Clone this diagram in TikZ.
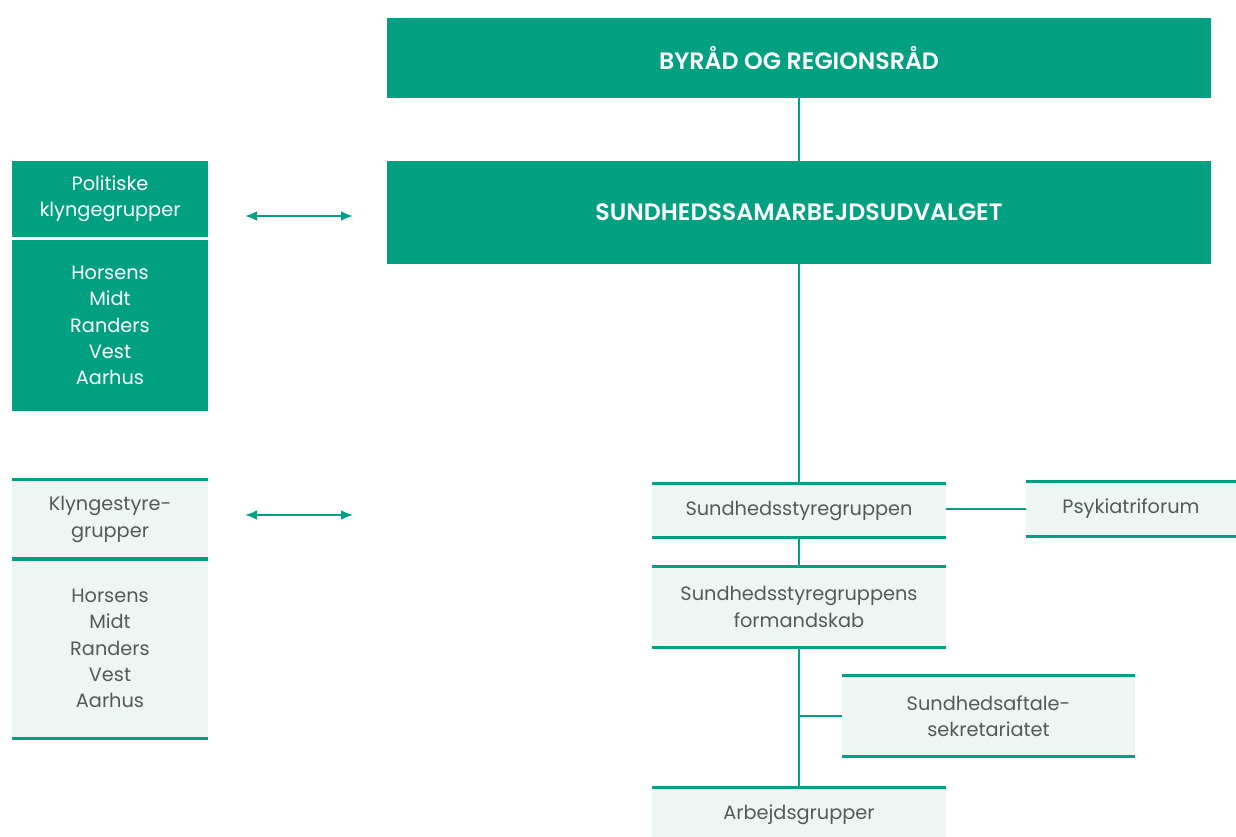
\documentclass[tikz,border=0pt]{standalone}
\usepackage{fontspec}
\setmainfont{Poppins}[BoldFont={Poppins SemiBold}]
\usepackage{tikz}
\usetikzlibrary{arrows.meta}
\definecolor{sgreen}{RGB}{0,160,128}
\definecolor{spale}{RGB}{238,246,243}
\definecolor{stext}{RGB}{84,90,88}
\begin{document}
\begin{tikzpicture}[x=0.02cm,y=-0.02cm,
		darkbox/.style={fill=sgreen,text=white,inner sep=0pt,align=center,font=\fontsize{11}{15}\selectfont},
		headbox/.style={darkbox,minimum width=16.5cm,font=\bfseries\fontsize{13.5}{16}\selectfont},
		palebox/.style={fill=spale,text=stext,inner sep=0pt,align=center,font=\fontsize{11}{15}\selectfont},
		rule/.style={sgreen,line width=0.06cm},
		link/.style={sgreen,line width=0.05cm},
		both/.style={sgreen,line width=0.05cm,{Latex[length=0.24cm,width=0.2cm]}-{Latex[length=0.24cm,width=0.2cm]}}]
	\useasboundingbox[fill=white] (0,0) rectangle (1236,837);

	%% top level
	\node[headbox, minimum height=1.6cm] (byraad) at (799,58) {BYRÅD OG REGIONSRÅD};
	\node[headbox, minimum height=2.06cm] (sam) at (799,212.5) {SUNDHEDSSAMARBEJDSUDVALGET};

	%% left column
	\node[darkbox, minimum width=3.92cm, minimum height=1.52cm] (polit) at (110,199) {Politiske\\klyngegrupper};
	\node[darkbox, minimum width=3.92cm, minimum height=3.42cm] (politlist) at (110,325.5) {Horsens\\Midt\\Randers\\Vest\\Aarhus};
	\node[palebox, minimum width=3.92cm, minimum height=1.58cm] (klyng) at (110,519.5) {Klyngestyre-\\grupper};
	\node[palebox, minimum width=3.92cm, minimum height=3.58cm] (klynglist) at (110,648.5) {Horsens\\Midt\\Randers\\Vest\\Aarhus};

	%% right column
	\node[palebox, minimum width=5.88cm, minimum height=1.06cm] (styre) at (799,510.5) {Sundhedsstyregruppen};
	\node[palebox, minimum width=4.2cm, minimum height=1.08cm] (psyk) at (1131,509) {Psykiatriforum};
	\node[palebox, minimum width=5.88cm, minimum height=1.6cm] (form) at (799,607) {Sundhedsstyregruppens\\formandskab};
	\node[palebox, minimum width=5.86cm, minimum height=1.6cm] (sekr) at (988.5,716) {Sundhedsaftale-\\sekretariatet};
	\node[palebox, minimum width=5.88cm, minimum height=1.08cm] (arb) at (799,815) {Arbejdsgrupper};

	%% rules on the pale boxes
	\foreach \n in {klyng,klynglist,styre,psyk,form,sekr,arb}{
		\draw[rule] (\n.north west) -- (\n.north east);
		\draw[rule] (\n.south west) -- (\n.south east);
	}

	%% lines
	\draw[link, line width=0.04cm] (byraad) -- (sam);
	\draw[link] (sam) -- (styre);
	\draw[link] (styre) -- (form);
	\draw[link] (form) -- (arb);
	\draw[link] (psyk.west) -- (styre.east |- psyk.west);
	\draw[link] (sekr.west) -- (form.south |- sekr.west);

	%% arrows
	\coordinate (pa) at (245,216);
	\coordinate (pb) at (353,216);
	\coordinate (ka) at (245,515);
	\coordinate (kb) at (353,515);
	\draw[both] (pa) -- (pb);
	\draw[both] (ka) -- (kb);
\end{tikzpicture}
\end{document}
